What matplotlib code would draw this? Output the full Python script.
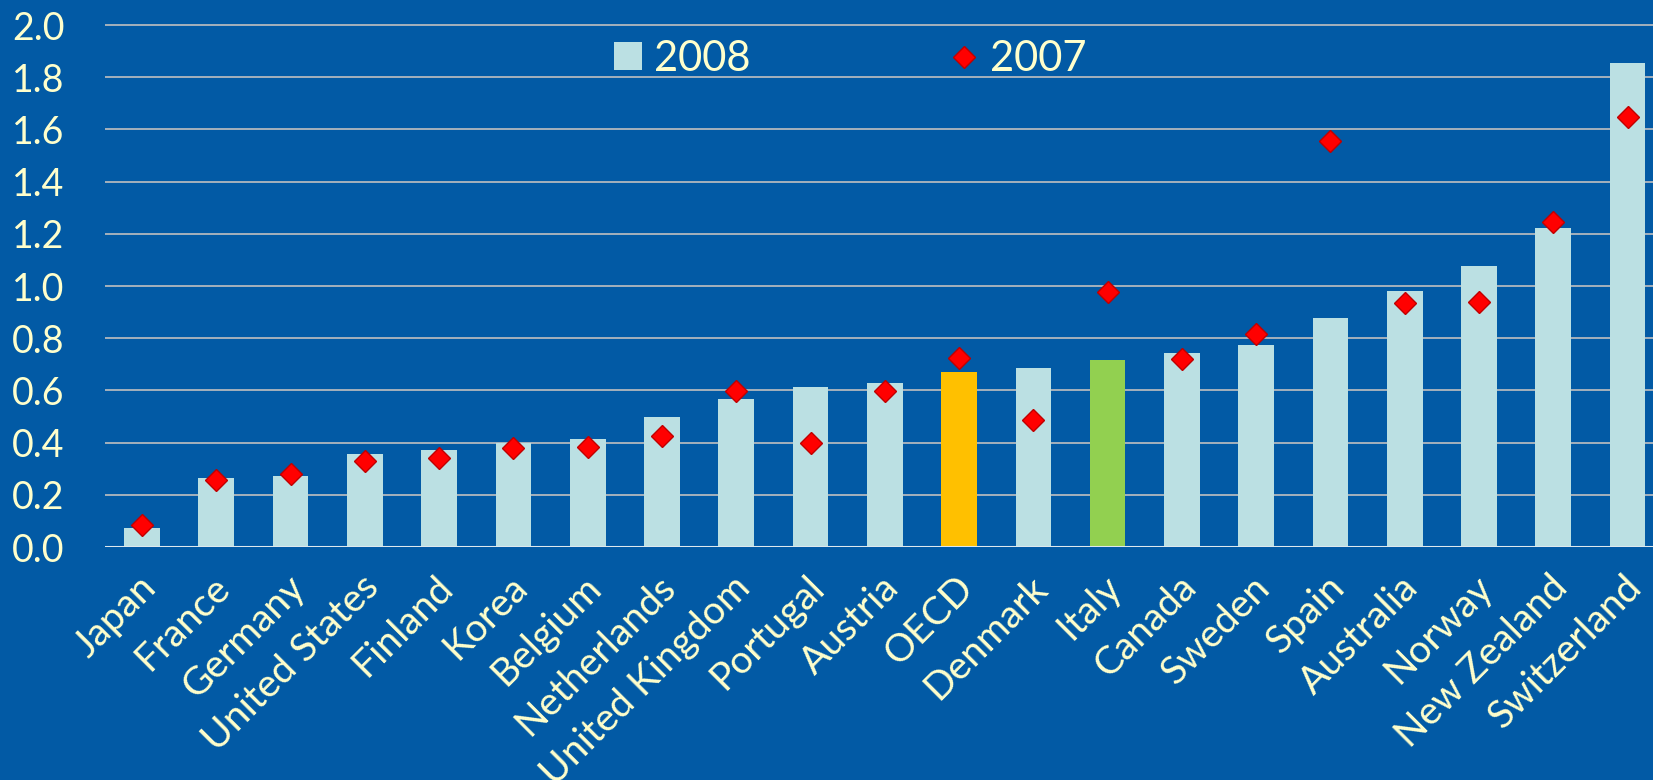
import matplotlib
matplotlib.use("Agg")
import matplotlib.pyplot as plt
from matplotlib.patches import Patch
from matplotlib.lines import Line2D
from matplotlib.transforms import ScaledTranslation
import numpy as np

countries = ["Japan", "France", "Germany", "United States", "Finland", "Korea",
             "Belgium", "Netherlands", "United Kingdom", "Portugal", "Austria",
             "OECD", "Denmark", "Italy", "Canada", "Sweden", "Spain",
             "Australia", "Norway", "New Zealand", "Switzerland"]
v2008 = [0.073, 0.266, 0.273, 0.355, 0.373, 0.398, 0.415, 0.498, 0.566, 0.613,
         0.628, 0.670, 0.685, 0.716, 0.744, 0.775, 0.878, 0.980, 1.076, 1.224, 1.853]
v2007 = [0.083, 0.258, 0.279, 0.331, 0.341, 0.379, 0.383, 0.424, 0.599, 0.400,
         0.599, 0.723, 0.485, 0.977, 0.721, 0.818, 1.554, 0.933, 0.937, 1.245, 1.647]
yticks = [0.0, 0.2, 0.4, 0.6, 0.8, 1.0, 1.2, 1.4, 1.6, 1.8, 2.0]

BG = "#025AA5"
BAR = "#BBE0E3"
TXT = "#FFFFCC"
FONT = "Lato"

W, H = 1653, 780
fig = plt.figure(figsize=(W / 100, H / 100), dpi=100, facecolor=BG)

# axes geometry in pixels
x0_px, y0_px = 105, 547          # left edge, baseline (0.0) from top
per_unit = 261.0                  # pixels per 1.0
ytop = 2.03
ax_h = ytop * per_unit
ax = fig.add_axes([x0_px / W, (H - y0_px) / H, (W - x0_px) / W, ax_h / H])
ax.set_facecolor(BG)

spacing = 74.28
xl = -37.0 / spacing
xr = 20 + (W - (142 + 20 * spacing)) / spacing
ax.set_xlim(xl, xr)
ax.set_ylim(0, ytop)

x = np.arange(len(countries))
colors = [BAR] * len(countries)
colors[countries.index("OECD")] = "#FFC000"
colors[countries.index("Italy")] = "#92D050"

ax.bar(x, v2008, width=0.48, color=colors, zorder=2)
ax.plot(x, v2007, linestyle="none", marker="D", markersize=11.5,
        markerfacecolor="#FF0000", markeredgecolor="#C00000",
        markeredgewidth=1.0, zorder=3, clip_on=False)

ax.set_yticks(yticks)
ax.set_yticklabels([f"{v:.1f}" for v in yticks])
ax.yaxis.grid(True, color="#C0C0C0", linewidth=1.2, zorder=0)
ax.set_axisbelow(True)
ax.axhline(0, color="#DDE8EE", linewidth=2.2, zorder=4)

for s in ax.spines.values():
    s.set_visible(False)

ax.tick_params(axis="y", length=0, pad=29, labelcolor=TXT, labelsize=27)
ax.tick_params(axis="x", length=0, pad=12, labelcolor=TXT, labelsize=28)
ax.set_xticks(x)
ax.set_xticklabels(countries, rotation=45, ha="right", va="center",
                   rotation_mode="anchor")
offset = ScaledTranslation(8 / 100, -18 / 100, fig.dpi_scale_trans)
for lab in ax.get_xticklabels():
    lab.set_transform(lab.get_transform() + offset)
for lab in ax.get_xticklabels() + ax.get_yticklabels():
    lab.set_fontfamily(FONT)

handles = [Patch(facecolor=BAR, edgecolor="none"),
           Line2D([], [], linestyle="none", marker="D", markersize=11.5,
                  markerfacecolor="#FF0000", markeredgecolor="#C00000",
                  markeredgewidth=1.0)]
leg = fig.legend(handles, ["2008", "2007"], loc="center left",
                 bbox_to_anchor=(614 / W, 1 - 59 / H), ncol=2, frameon=False,
                 prop={"family": FONT, "size": 30}, labelcolor=TXT,
                 handlelength=0.66, handleheight=0.66, handletextpad=0.3,
                 columnspacing=4.8, borderpad=0, borderaxespad=0)

fig.savefig("out.png", dpi=100, facecolor=BG)
